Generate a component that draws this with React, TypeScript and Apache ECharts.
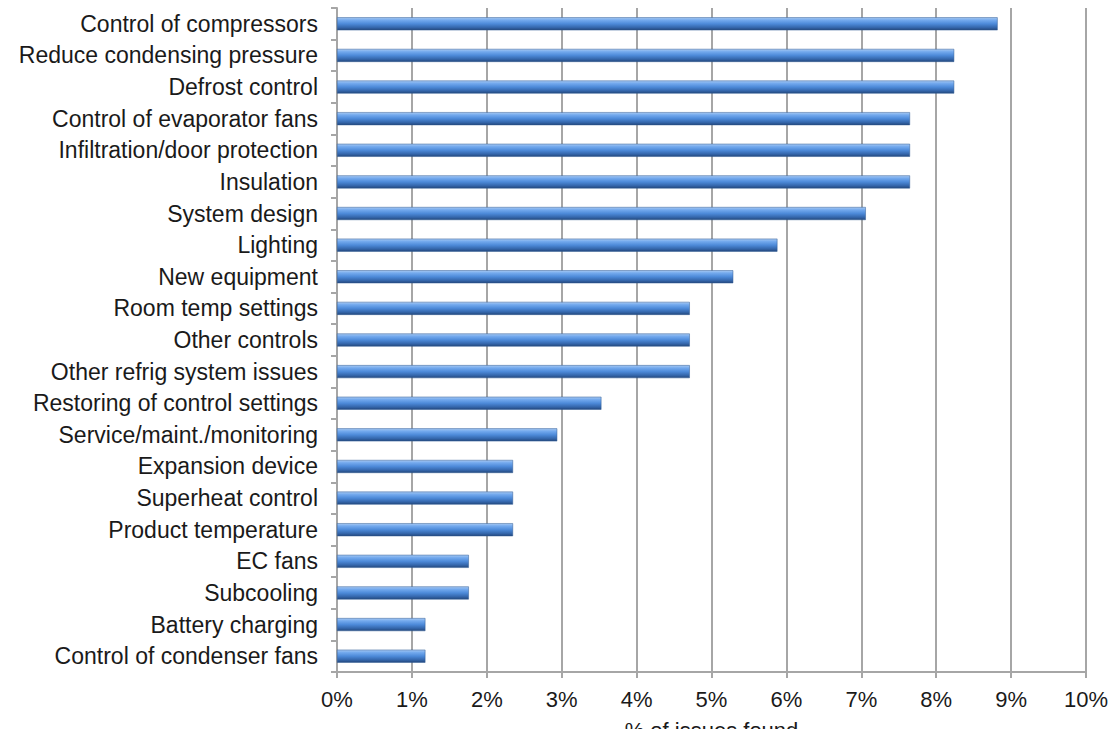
import React, { useEffect, useRef } from "react";
import * as echarts from "echarts";

const categories = [
  "Control of compressors",
  "Reduce condensing pressure",
  "Defrost control",
  "Control of evaporator fans",
  "Infiltration/door protection",
  "Insulation",
  "System design",
  "Lighting",
  "New equipment",
  "Room temp settings",
  "Other controls",
  "Other refrig system issues",
  "Restoring of control settings",
  "Service/maint./monitoring",
  "Expansion device",
  "Superheat control",
  "Product temperature",
  "EC fans",
  "Subcooling",
  "Battery charging",
  "Control of condenser fans",
];

const percentIssues = [
  8.82, 8.24, 8.24, 7.65, 7.65, 7.65, 7.06, 5.88, 5.29, 4.71, 4.71, 4.71,
  3.53, 2.94, 2.35, 2.35, 2.35, 1.76, 1.76, 1.18, 1.18,
];

const xTicks = { min: 0, max: 10, interval: 1 };
const xAxisTitle = "% of issues found";

export default function App() {
  const ref = useRef<HTMLDivElement>(null);
  useEffect(() => {
    if (!ref.current) return;
    const chart = echarts.init(ref.current, undefined, { renderer: "svg" });
    const font = "'Liberation Sans', Arial, sans-serif";
    const gray = "#a6a6a6";
    chart.setOption({
      animation: false,
      backgroundColor: "#ffffff",
      grid: {
        left: 337,
        right: 33,
        top: 8,
        bottom: 57,
        containLabel: false,
        outerBoundsMode: "none",
      },
      xAxis: {
        type: "value",
        min: xTicks.min,
        max: xTicks.max,
        interval: xTicks.interval,
        name: xAxisTitle,
        nameLocation: "middle",
        nameGap: 47,
        nameTextStyle: { fontFamily: font, fontSize: 22, color: "#1a1a1a" },
        axisLine: { show: true, lineStyle: { color: gray, width: 2 } },
        axisTick: { show: true, length: 6, lineStyle: { color: gray, width: 2 } },
        axisLabel: {
          formatter: "{value}%",
          fontFamily: font,
          fontSize: 22,
          color: "#1a1a1a",
          margin: 16,
        },
        splitLine: { show: true, lineStyle: { color: gray, width: 2 } },
      },
      yAxis: {
        type: "category",
        data: categories,
        inverse: true,
        axisLine: { show: true, lineStyle: { color: gray, width: 2 } },
        axisTick: {
          show: true,
          length: 6,
          alignWithLabel: false,
          lineStyle: { color: gray, width: 2 },
        },
        axisLabel: {
          fontFamily: font,
          fontSize: 23,
          color: "#1a1a1a",
          margin: 19,
        },
        splitLine: { show: false },
      },
      series: [
        {
          type: "bar",
          data: percentIssues,
          barWidth: 13,
          itemStyle: {
            color: new echarts.graphic.LinearGradient(0, 0, 0, 1, [
              { offset: 0, color: "#a8c9f2" },
              { offset: 0.2, color: "#74aaee" },
              { offset: 0.5, color: "#4d8ad9" },
              { offset: 0.8, color: "#3466ab" },
              { offset: 1, color: "#24487c" },
            ]),
            borderColor: "#2e5a94",
            borderWidth: 0.5,
          },
        },
      ],
    });
    return () => chart.dispose();
  }, []);
  return (
    <div
      ref={ref}
      style={{ position: "fixed", left: 0, top: 0, width: 1119, height: 729 }}
    />
  );
}
